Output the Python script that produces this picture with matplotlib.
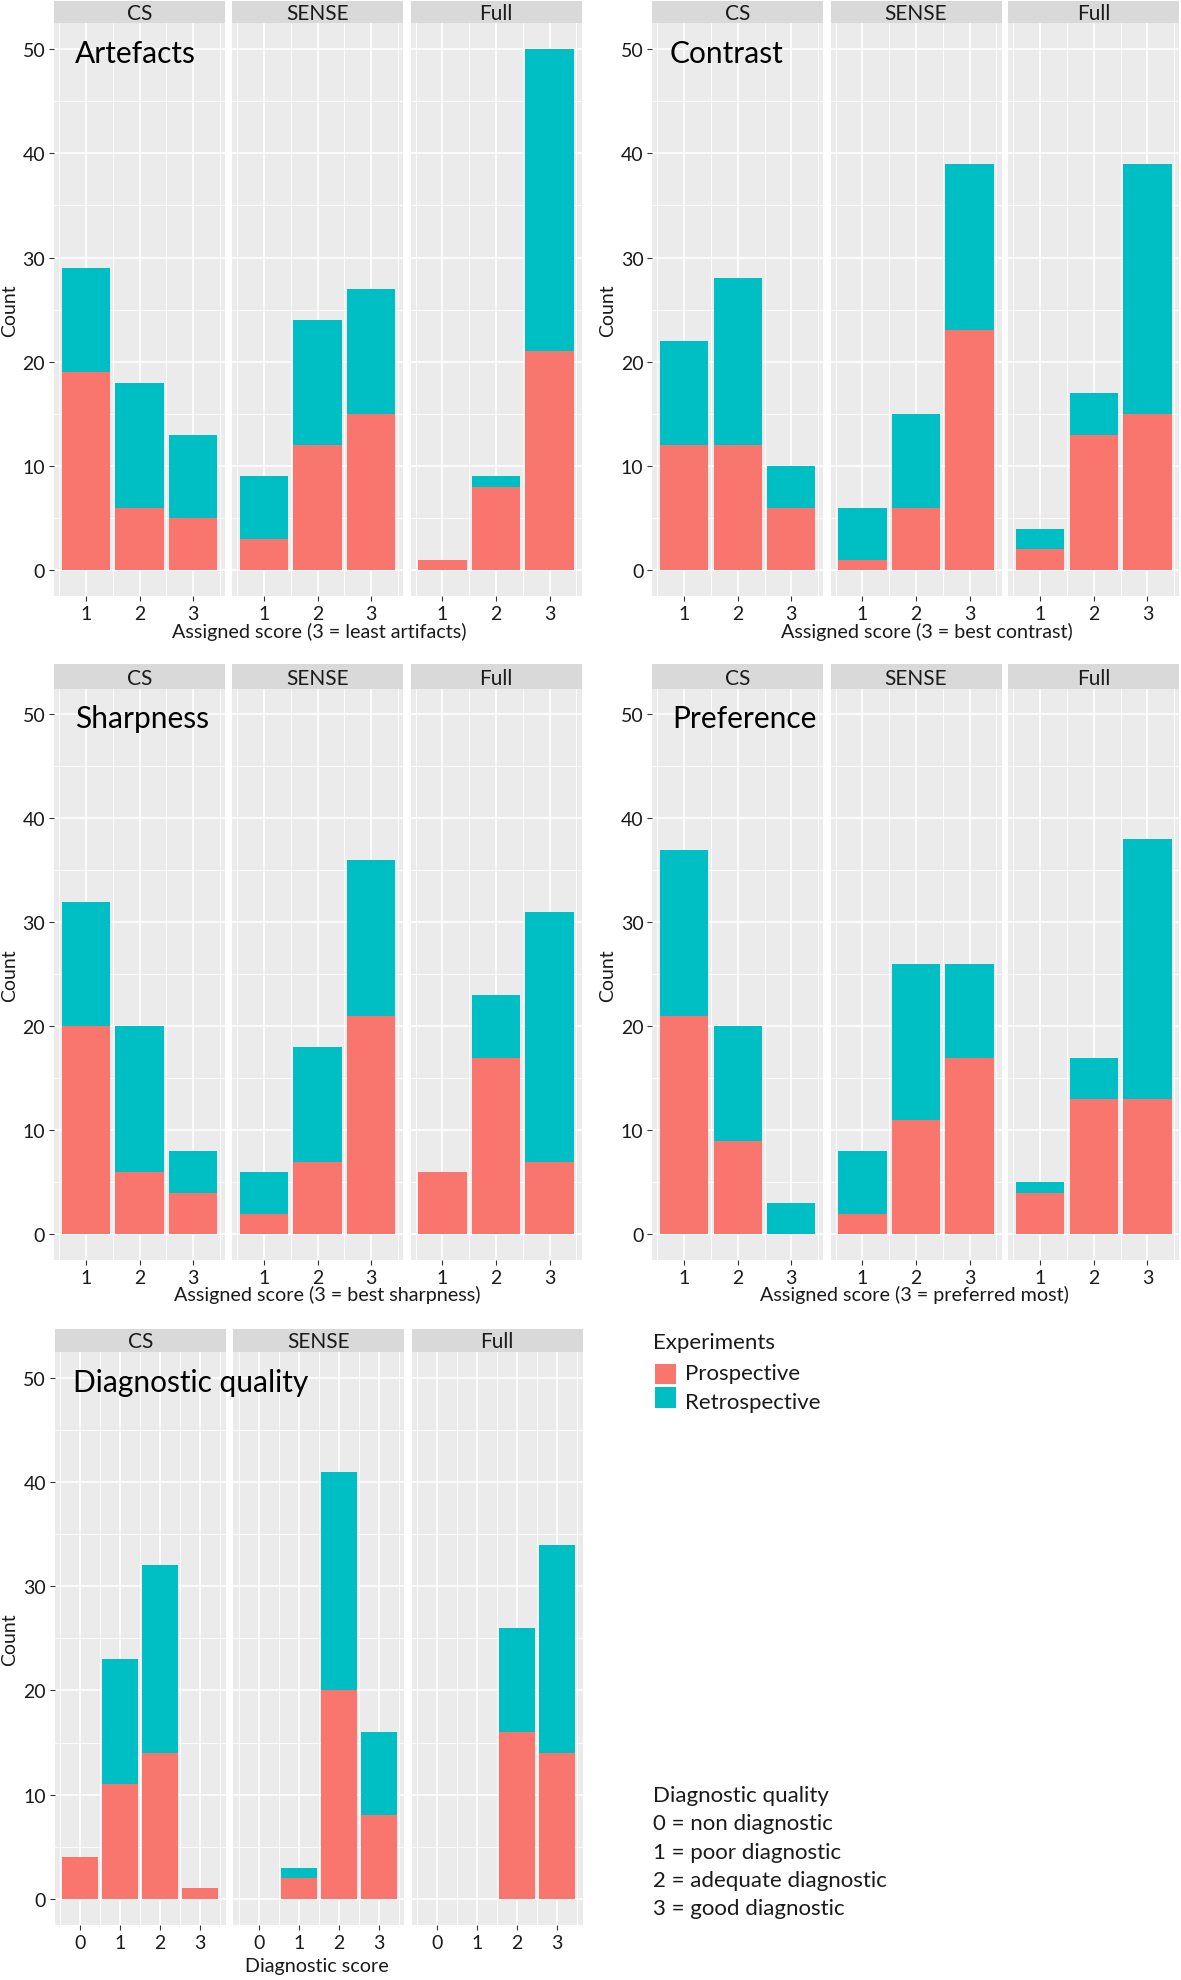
import matplotlib
matplotlib.use('Agg')
import matplotlib.pyplot as plt
from matplotlib.patches import Rectangle

plt.rcParams['font.family'] = ['Lato', 'DejaVu Sans']

W, H = 1181, 1981

methods = ['CS', 'SENSE', 'Full']
scores_assigned = [1, 2, 3]
scores_diag = [0, 1, 2, 3]
experiments = ['Prospective', 'Retrospective']
colors = ['#F8766D', '#00BFC4']

# per method (CS, SENSE, Full): counts per score
artefacts_pro = [[19, 6, 5], [3, 12, 15], [1, 8, 21]]
artefacts_ret = [[10, 12, 8], [6, 12, 12], [0, 1, 29]]
contrast_pro = [[12, 12, 6], [1, 6, 23], [2, 13, 15]]
contrast_ret = [[10, 16, 4], [5, 9, 16], [2, 4, 24]]
sharpness_pro = [[20, 6, 4], [2, 7, 21], [6, 17, 7]]
sharpness_ret = [[12, 14, 4], [4, 11, 15], [0, 6, 24]]
preference_pro = [[21, 9, 0], [2, 11, 17], [4, 13, 13]]
preference_ret = [[16, 11, 3], [6, 15, 9], [1, 4, 25]]
diagnostic_pro = [[4, 11, 14, 1], [0, 2, 20, 8], [0, 0, 16, 14]]
diagnostic_ret = [[0, 12, 18, 0], [0, 1, 21, 8], [0, 0, 10, 20]]

fig = plt.figure(figsize=(W / 100, H / 100), dpi=100)
fig.patch.set_facecolor('white')

TXT = '#1a1a1a'
PW = 171.0


def fx(x):
    return x / W


def fy(y):
    return 1 - y / H


def add_group(lefts, strip_top, strip_bot, panel_bot, scores, pro, ret,
              title, title_xy, xlabel, xlabel_xy, ylabel_x):
    lo, hi = min(scores) - 0.45, max(scores) + 0.45
    pad = 0.05 * (hi - lo)
    for i, (m, xl) in enumerate(zip(methods, lefts)):
        ax = fig.add_axes([fx(xl), fy(panel_bot), PW / W, (panel_bot - strip_bot) / H])
        ax.set_facecolor('#EBEBEB')
        for s in ax.spines.values():
            s.set_visible(False)
        ax.set_xlim(lo - pad, hi + pad)
        ax.set_ylim(-2.5, 52.5)
        ax.set_yticks([0, 10, 20, 30, 40, 50])
        ax.set_yticks([5, 15, 25, 35, 45], minor=True)
        ax.set_xticks(scores)
        ax.set_xticks([s + 0.5 for s in [min(scores) - 1] + list(scores)], minor=True)
        ax.grid(which='major', color='white', lw=1.2)
        ax.grid(which='minor', color='white', lw=0.6)
        ax.set_axisbelow(True)
        ax.tick_params(which='minor', length=0)
        ax.tick_params(which='major', length=3.8, width=0.8, color='#333333',
                       labelsize=14, labelcolor=TXT, pad=2.5)
        if i > 0:
            ax.tick_params(axis='y', left=False, labelleft=False)
        ax.bar(scores, pro[i], width=0.9, color=colors[0], linewidth=0, zorder=2)
        ax.bar(scores, ret[i], bottom=pro[i], width=0.9, color=colors[1], linewidth=0, zorder=2)
        sax = fig.add_axes([fx(xl), fy(strip_bot), PW / W, (strip_bot - strip_top) / H])
        sax.set_facecolor('#D9D9D9')
        sax.set_xticks([])
        sax.set_yticks([])
        for s in sax.spines.values():
            s.set_visible(False)
        sax.text(0.5, 0.45, m, ha='center', va='center', fontsize=15, color=TXT,
                 transform=sax.transAxes)
    fig.text(fx(title_xy[0]), fy(title_xy[1]), title, fontsize=21.5, color='black',
             ha='left', va='baseline', zorder=10)
    fig.text(fx(xlabel_xy[0]), fy(xlabel_xy[1]), xlabel, fontsize=14.2, color=TXT,
             ha='center', va='center')
    fig.text(fx(ylabel_x), fy((strip_bot + panel_bot) / 2), 'Count', fontsize=14,
             color=TXT, rotation=90, ha='center', va='center')


left_group = [54.0, 232.0, 410.5]
right_group = [652.2, 830.5, 1008.3]

add_group(left_group, 1.5, 24, 597.3, scores_assigned, artefacts_pro, artefacts_ret,
          'Artefacts', (74.6, 63.1), 'Assigned score (3 = least artifacts)', (319.6, 632), 9.5)
add_group(right_group, 1.5, 24, 597.3, scores_assigned, contrast_pro, contrast_ret,
          'Contrast', (670, 63.1), 'Assigned score (3 = best contrast)', (927, 632), 607.7)
add_group(left_group, 665.4, 689.5, 1261.3, scores_assigned, sharpness_pro, sharpness_ret,
          'Sharpness', (75.4, 727.7), 'Assigned score (3 = best sharpness)', (327, 1295), 9.5)
add_group(right_group, 665.4, 689.5, 1261.3, scores_assigned, preference_pro, preference_ret,
          'Preference', (672.2, 727.7), 'Assigned score (3 = preferred most)', (914.5, 1295), 607.7)
add_group([54.7, 233.3, 411.6], 1329.5, 1353, 1925.8, scores_diag, diagnostic_pro, diagnostic_ret,
          'Diagnostic quality', (72.7, 1392.3), 'Diagnostic score', (316.6, 1967), 9.5)

# Legend
fig.text(fx(653), fy(1348.7), 'Experiments', fontsize=16, color=TXT, ha='left', va='baseline')
box_y = [(1365.3, 1384.9), (1388.3, 1408.8)]
text_base = [1380.5, 1408.8]
for c, lab, (y0, y1), yb in zip(colors, experiments, box_y, text_base):
    fig.patches.append(Rectangle((fx(654.5), fy(y1)), (675.6 - 654.5) / W, (y1 - y0) / H,
                                 transform=fig.transFigure, facecolor=c, edgecolor='none'))
    fig.text(fx(685), fy(yb), lab, fontsize=16, color=TXT, ha='left', va='baseline')

diag_lines = ['Diagnostic quality', '0 = non diagnostic', '1 = poor diagnostic',
              '2 = adequate diagnostic', '3 = good diagnostic']
diag_base = [1801.7, 1830, 1858.8, 1887, 1915.3]
for t, yb in zip(diag_lines, diag_base):
    fig.text(fx(653), fy(yb), t, fontsize=16, color=TXT, ha='left', va='baseline')

fig.savefig('out.png', dpi=100)
